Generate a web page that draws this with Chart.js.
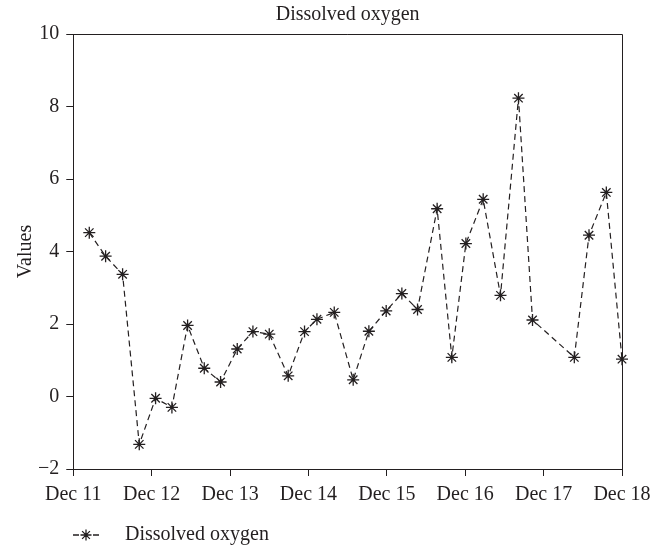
<!DOCTYPE html>
<html>
<head>
<meta charset="utf-8">
<script src="https://cdn.jsdelivr.net/npm/chart.js@4.4.1/dist/chart.umd.min.js"></script>
<style>
  html, body { margin: 0; padding: 0; background: #ffffff; }
  #wrap { width: 664px; height: 552px; }
</style>
</head>
<body>
<div id="wrap"><canvas id="chart" width="664" height="552"></canvas></div>
<script>
// Readings: hours elapsed since Dec 11 00:00, and dissolved oxygen values
const readingHours = [4.9, 9.9, 15.1, 20.2, 25.2, 30.2, 35.0, 40.1, 45.1, 50.2, 55.0, 60.0,
  65.8, 70.8, 74.6, 79.9, 85.7, 90.5, 95.8, 100.6, 105.4, 111.4, 115.9, 120.2,
  125.5, 130.8, 136.3, 140.6, 153.4, 157.9, 163.2, 168.0];
const dissolvedOxygen = [4.52, 3.87, 3.37, -1.32, -0.05, -0.30, 1.96, 0.78, 0.40, 1.31, 1.79, 1.72,
  0.57, 1.79, 2.13, 2.32, 0.46, 1.80, 2.36, 2.84, 2.40, 5.18, 1.08, 4.22,
  5.44, 2.79, 8.23, 2.11, 1.08, 4.45, 5.63, 1.03];
const dayLabels = ['Dec 11', 'Dec 12', 'Dec 13', 'Dec 14', 'Dec 15', 'Dec 16', 'Dec 17', 'Dec 18'];
const yTicks = [-2, 0, 2, 4, 6, 8, 10];
const seriesName = 'Dissolved oxygen';

const INK = '#231f20';
const FAMILY = '"Liberation Serif", "Times New Roman", serif';
const FONT = { family: FAMILY, size: 20, weight: 'normal' };

// Legend sample: dashed stub with an asterisk marker
function legendSample() {
  const c = document.createElement('canvas');
  c.width = 96; c.height = 20;
  const g = c.getContext('2d');
  g.strokeStyle = INK;
  g.lineWidth = 1.3;
  const cx = 67, cy = 10, r = 5.5;
  g.beginPath();
  g.moveTo(54, cy); g.lineTo(60, cy);
  g.moveTo(74, cy); g.lineTo(80, cy);
  for (let k = 0; k < 4; k++) {
    const a = k * Math.PI / 4;
    g.moveTo(cx - r * Math.cos(a), cy - r * Math.sin(a));
    g.lineTo(cx + r * Math.cos(a), cy + r * Math.sin(a));
  }
  g.stroke();
  return c;
}

// Closes the plot box on top and right, and centres the title over the plot
const plotFrame = {
  id: 'plotFrame',
  afterLayout(chart) {
    const t = chart.titleBlock;
    if (t) { t.left = chart.chartArea.left; t.right = chart.chartArea.right; }
  },
  beforeDatasetsDraw(chart) {
    const { ctx, chartArea: a } = chart;
    ctx.save();
    ctx.strokeStyle = INK;
    ctx.lineWidth = 1;
    ctx.beginPath();
    ctx.moveTo(a.left, a.top + 0.5);
    ctx.lineTo(a.right + 0.5, a.top + 0.5);
    ctx.lineTo(a.right + 0.5, a.bottom);
    ctx.stroke();
    ctx.restore();
  }
};

const sample = legendSample();

new Chart(document.getElementById('chart'), {
  type: 'line',
  data: {
    datasets: [{
      label: seriesName,
      data: readingHours.map((h, i) => ({ x: h, y: dissolvedOxygen[i] })),
      borderColor: INK,
      backgroundColor: INK,
      borderWidth: 1.2,
      borderDash: [6, 4],
      pointStyle: 'star',
      pointRadius: 6,
      pointBorderWidth: 1.3,
      pointBorderColor: INK,
      tension: 0,
      fill: false,
      clip: false
    }]
  },
  options: {
    responsive: false,
    animation: false,
    layout: { padding: { left: 8, right: 42, top: 0, bottom: -3 } },
    plugins: {
      title: {
        display: true,
        text: seriesName,
        color: INK,
        font: FONT,
        padding: { top: 3, bottom: 7 }
      },
      legend: {
        display: true,
        position: 'bottom',
        align: 'start',
        labels: {
          color: INK,
          font: FONT,
          usePointStyle: true,
          pointStyleWidth: 96,
          padding: 11,
          generateLabels: () => [{
            text: seriesName,
            pointStyle: sample,
            fillStyle: INK,
            strokeStyle: INK,
            fontColor: INK,
            lineWidth: 0,
            datasetIndex: 0,
            hidden: false
          }]
        }
      },
      tooltip: { enabled: false }
    },
    scales: {
      x: {
        type: 'linear',
        min: 0,
        max: 168,
        afterBuildTicks: (s) => { s.ticks = dayLabels.map((_, i) => ({ value: i * 24 })); },
        ticks: {
          color: INK,
          font: FONT,
          padding: 7,
          maxRotation: 0,
          autoSkip: false,
          callback: (v) => dayLabels[Math.round(v / 24)]
        },
        grid: { drawOnChartArea: false, tickLength: 7, color: INK, tickColor: INK },
        border: { display: true, color: INK, width: 1 }
      },
      y: {
        type: 'linear',
        min: -2,
        max: 10,
        afterBuildTicks: (s) => { s.ticks = yTicks.map(v => ({ value: v })); },
        ticks: {
          color: INK,
          font: FONT,
          padding: 7,
          callback: (v) => (v < 0 ? '\u2212' + Math.abs(v) : String(v))
        },
        grid: { drawOnChartArea: false, tickLength: 7, color: INK, tickColor: INK },
        border: { display: true, color: INK, width: 1 },
        title: {
          display: true,
          text: 'Values',
          color: INK,
          font: { family: FAMILY, size: 20, lineHeight: 0.5 },
          padding: { top: 13, bottom: 0 }
        }
      }
    }
  },
  plugins: [plotFrame]
});
</script>
</body>
</html>
